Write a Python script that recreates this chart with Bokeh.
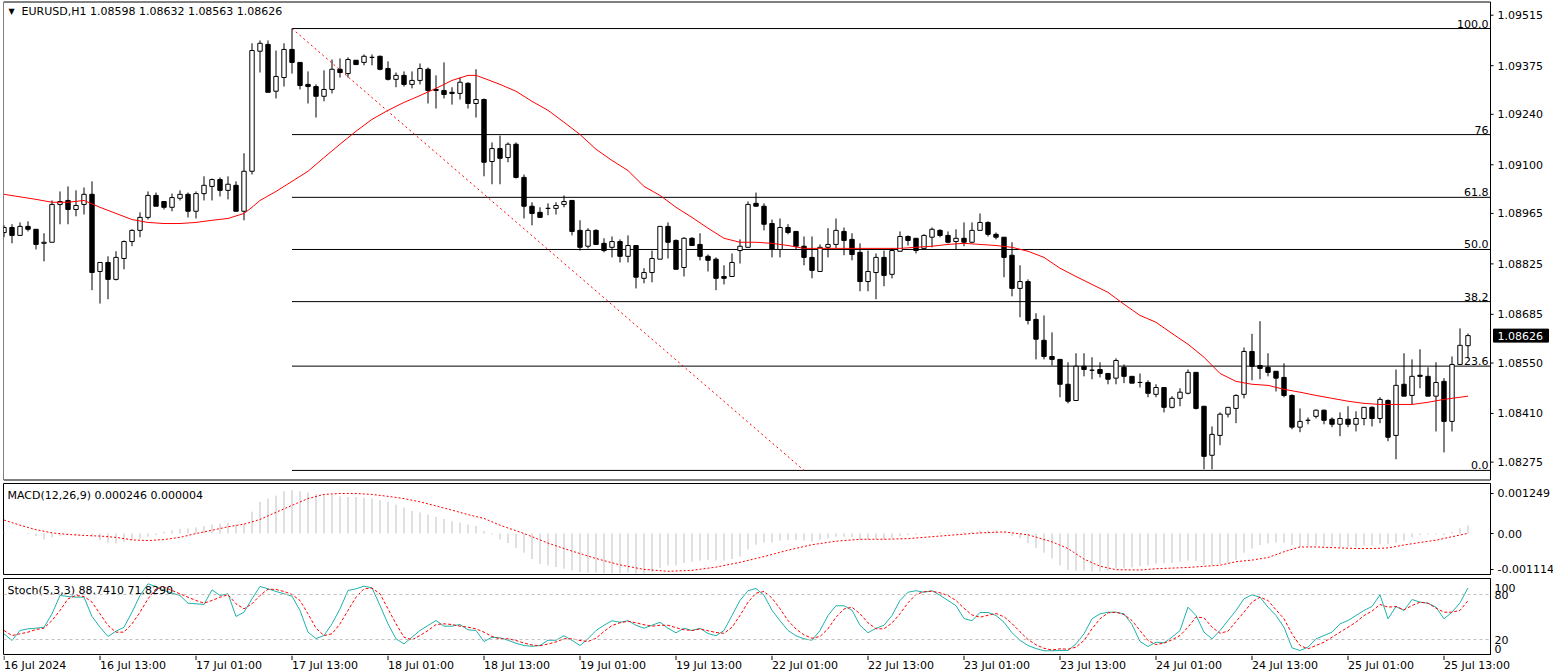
from bokeh.plotting import figure
from bokeh.layouts import column
from bokeh.models import Range1d, FixedTicker, CustomJSTickFormatter, Span, ColumnDataSource
from bokeh.embed import file_html
from bokeh.resources import INLINE
from bokeh.core.properties import value

FONT = "DejaVu Sans"

# ---------------- data (EURUSD H1, 16 Jul 01:00 .. 25 Jul 16:00) ----------------
opens = [1.08912,1.08926,1.08904,1.08929,1.08921,1.08882,1.08885,1.08990,1.09001,1.08976,
1.08990,1.09018,1.08804,1.08829,1.08782,1.08840,1.08887,1.08918,1.08954,1.09015,
1.08998,1.08982,1.09007,1.09018,1.08971,1.09020,1.09040,1.09059,1.09029,1.09043,
1.08971,1.09082,1.09415,1.09434,1.09304,1.09342,1.09420,1.09384,1.09323,1.09317,
1.09290,1.09309,1.09365,1.09353,1.09390,1.09384,1.09398,1.09401,1.09367,1.09337,
1.09348,1.09323,1.09334,1.09365,1.09309,1.09306,1.09301,1.09298,1.09326,1.09270,
1.09281,1.09109,1.09145,1.09120,1.09157,1.09065,1.08985,1.08968,1.08979,1.08979,
1.08990,1.09001,1.08918,1.08874,1.08918,1.08882,1.08871,1.08887,1.08846,1.08876,
1.08785,1.08801,1.08838,1.08929,1.08890,1.08815,1.08896,1.08879,1.08846,1.08838,
1.08790,1.08790,1.08862,1.08871,1.08993,1.08985,1.08937,1.08865,1.08926,1.08915,
1.08874,1.08843,1.08804,1.08871,1.08879,1.08915,1.08893,1.08857,1.08776,1.08801,
1.08843,1.08796,1.08860,1.08901,1.08896,1.08868,1.08899,1.08918,1.08904,1.08887,
1.08896,1.08885,1.08918,1.08940,1.08907,1.08899,1.08849,1.08757,1.08776,1.08671,
1.08613,1.08568,1.08560,1.08491,1.08446,1.08541,1.08530,1.08532,1.08521,1.08508,
1.08538,1.08513,1.08496,1.08496,1.08463,1.08482,1.08427,1.08452,1.08466,1.08524,
1.08430,1.08294,1.08349,1.08408,1.08424,1.08463,1.08582,1.08543,1.08538,1.08527,
1.08510,1.08460,1.08372,1.08391,1.08402,1.08419,1.08394,1.08380,1.08394,1.08380,
1.08396,1.08427,1.08396,1.08446,1.08349,1.08491,1.08460,1.08516,1.08513,1.08458,
1.08499,1.08388,1.08546,1.08598]
highs = [1.08932,1.08935,1.08940,1.08943,1.08921,1.08910,1.09001,1.09026,1.09040,1.09029,
1.09037,1.09054,1.08829,1.08846,1.08860,1.08890,1.08921,1.08968,1.09026,1.09023,
1.08998,1.09020,1.09029,1.09023,1.09026,1.09068,1.09062,1.09065,1.09068,1.09054,
1.09132,1.09437,1.09445,1.09445,1.09417,1.09437,1.09478,1.09384,1.09359,1.09323,
1.09362,1.09392,1.09395,1.09398,1.09390,1.09406,1.09406,1.09403,1.09387,1.09356,
1.09359,1.09359,1.09381,1.09370,1.09348,1.09384,1.09315,1.09342,1.09329,1.09365,
1.09284,1.09162,1.09181,1.09162,1.09162,1.09073,1.08996,1.08982,1.08993,1.08996,
1.09015,1.09001,1.08946,1.08924,1.08921,1.08896,1.08901,1.08893,1.08904,1.08876,
1.08813,1.08862,1.08929,1.08940,1.08893,1.08899,1.08899,1.08910,1.08851,1.08843,
1.08821,1.08854,1.08893,1.08998,1.09023,1.08993,1.08948,1.08951,1.08935,1.08915,
1.08901,1.08901,1.08879,1.08924,1.08951,1.08926,1.08910,1.08882,1.08862,1.08854,
1.08862,1.08868,1.08915,1.08904,1.08896,1.08907,1.08926,1.08921,1.08915,1.08921,
1.08940,1.08940,1.08965,1.08943,1.08912,1.08899,1.08885,1.08821,1.08782,1.08688,
1.08682,1.08635,1.08560,1.08552,1.08577,1.08577,1.08566,1.08552,1.08521,1.08563,
1.08546,1.08513,1.08521,1.08502,1.08491,1.08482,1.08458,1.08480,1.08532,1.08524,
1.08430,1.08374,1.08413,1.08427,1.08463,1.08593,1.08631,1.08666,1.08577,1.08527,
1.08549,1.08463,1.08424,1.08399,1.08421,1.08421,1.08399,1.08413,1.08430,1.08416,
1.08427,1.08430,1.08455,1.08449,1.08532,1.08577,1.08560,1.08588,1.08538,1.08552,
1.08508,1.08568,1.08646,1.08632]
lows = [1.08899,1.08882,1.08904,1.08915,1.08865,1.08832,1.08885,1.08935,1.08935,1.08957,
1.08962,1.08752,1.08715,1.08727,1.08779,1.08810,1.08874,1.08899,1.08948,1.08985,
1.08976,1.08971,1.09001,1.08954,1.08951,1.09001,1.09001,1.09012,1.09004,1.08971,
1.08946,1.09073,1.09356,1.09301,1.09284,1.09317,1.09353,1.09309,1.09270,1.09231,
1.09276,1.09298,1.09342,1.09342,1.09378,1.09376,1.09376,1.09362,1.09334,1.09315,
1.09317,1.09312,1.09323,1.09270,1.09256,1.09284,1.09267,1.09281,1.09256,1.09231,
1.09068,1.09046,1.09046,1.09107,1.09062,1.08951,1.08932,1.08954,1.08960,1.08962,
1.08982,1.08904,1.08862,1.08868,1.08879,1.08857,1.08843,1.08829,1.08829,1.08757,
1.08771,1.08774,1.08838,1.08840,1.08810,1.08790,1.08876,1.08835,1.08804,1.08752,
1.08768,1.08790,1.08826,1.08871,1.08985,1.08918,1.08843,1.08843,1.08907,1.08865,
1.08821,1.08785,1.08804,1.08843,1.08868,1.08849,1.08835,1.08749,1.08749,1.08727,
1.08763,1.08785,1.08860,1.08876,1.08854,1.08868,1.08871,1.08899,1.08882,1.08865,
1.08874,1.08882,1.08918,1.08901,1.08893,1.08788,1.08735,1.08677,1.08657,1.08560,
1.08560,1.08543,1.08455,1.08438,1.08446,1.08513,1.08505,1.08510,1.08491,1.08491,
1.08494,1.08494,1.08482,1.08455,1.08455,1.08413,1.08424,1.08430,1.08463,1.08421,
1.08255,1.08255,1.08322,1.08399,1.08383,1.08452,1.08502,1.08505,1.08513,1.08471,
1.08455,1.08366,1.08358,1.08380,1.08396,1.08380,1.08372,1.08347,1.08372,1.08360,
1.08377,1.08374,1.08383,1.08333,1.08283,1.08458,1.08435,1.08480,1.08458,1.08360,
1.08302,1.08360,1.08546,1.08563]
closes = [1.08926,1.08904,1.08929,1.08921,1.08879,1.08885,1.08990,1.08998,1.08976,1.08987,
1.09018,1.08801,1.08829,1.08782,1.08843,1.08887,1.08918,1.08954,1.09015,1.08985,
1.08982,1.09009,1.09018,1.08971,1.09020,1.09043,1.09059,1.09029,1.09046,1.08971,
1.09082,1.09417,1.09437,1.09301,1.09345,1.09420,1.09384,1.09320,1.09317,1.09290,
1.09309,1.09365,1.09356,1.09392,1.09378,1.09401,1.09398,1.09365,1.09337,1.09348,
1.09323,1.09334,1.09367,1.09306,1.09306,1.09295,1.09298,1.09329,1.09270,1.09281,
1.09107,1.09145,1.09118,1.09157,1.09065,1.08985,1.08965,1.08954,1.08979,1.08987,
1.08998,1.08915,1.08871,1.08918,1.08879,1.08862,1.08887,1.08846,1.08876,1.08788,
1.08801,1.08840,1.08929,1.08885,1.08810,1.08896,1.08876,1.08846,1.08835,1.08785,
1.08785,1.08829,1.08874,1.08990,1.08985,1.08935,1.08865,1.08926,1.08912,1.08874,
1.08843,1.08807,1.08871,1.08879,1.08918,1.08890,1.08851,1.08776,1.08804,1.08843,
1.08793,1.08862,1.08901,1.08890,1.08862,1.08904,1.08921,1.08904,1.08885,1.08896,
1.08885,1.08918,1.08940,1.08907,1.08899,1.08843,1.08757,1.08776,1.08668,1.08616,
1.08568,1.08560,1.08491,1.08444,1.08541,1.08532,1.08530,1.08521,1.08505,1.08557,
1.08513,1.08494,1.08496,1.08466,1.08482,1.08427,1.08452,1.08469,1.08524,1.08424,
1.08291,1.08352,1.08408,1.08427,1.08460,1.08582,1.08541,1.08535,1.08524,1.08508,
1.08460,1.08372,1.08388,1.08391,1.08419,1.08391,1.08380,1.08396,1.08380,1.08396,
1.08427,1.08396,1.08449,1.08344,1.08488,1.08458,1.08513,1.08513,1.08458,1.08496,
1.08388,1.08546,1.08599,1.08626]

# moving average (red), read at selected bars
ma_idx = [0,4,6,8,10,12,14,16,18,20,22,24,26,28,30,31,32,34,36,38,40,42,44,46,48,50,52,54,56,58,59,
          60,62,64,66,68,70,72,74,76,78,80,82,84,86,88,90,92,94,96,98,100,104,108,112,114,116,118,
          120,122,124,126,128,130,132,134,136,138,140,142,144,146,148,150,152,154,156,158,160,162,
          164,166,168,170,172,174,176,178,180,182,183]
ma_val = [1.09018,1.09004,1.08996,1.08996,1.09001,1.08982,1.08965,1.08948,1.08940,1.08937,1.08937,
          1.08940,1.08946,1.08951,1.08965,1.08982,1.09001,1.09026,1.09054,1.09082,1.09120,1.09157,
          1.09193,1.09226,1.09251,1.09273,1.09292,1.09312,1.09334,1.09348,1.09348,1.09340,1.09323,
          1.09304,1.09276,1.09251,1.09218,1.09184,1.09143,1.09112,1.09084,1.09040,1.09015,1.08982,
          1.08954,1.08924,1.08896,1.08885,1.08885,1.08882,1.08876,1.08868,1.08868,1.08868,1.08868,
          1.08871,1.08874,1.08879,1.08882,1.08879,1.08876,1.08871,1.08860,1.08843,1.08813,1.08790,
          1.08768,1.08746,1.08713,1.08682,1.08663,1.08632,1.08602,1.08566,1.08521,1.08499,1.08491,
          1.08488,1.08477,1.08469,1.08460,1.08452,1.08444,1.08438,1.08435,1.08435,1.08435,1.08441,
          1.08449,1.08455,1.08458]

# Fibonacci retracement
fib_start, fib_end = 36, 100
fib_high, fib_low = 1.09478, 1.08252
fib_levels = [0.0, 23.6, 38.2, 50.0, 61.8, 76.0, 100.0]
fib_labels = ["0.0", "23.6", "38.2", "50.0", "61.8", "76", "100.0"]

# MACD(12,26,9): histogram (main) and signal
macd_hist = [0.00005,0.00001,-0.00001,-0.00003,-0.00008,-0.00018,-0.00012,-0.00007,-0.00005,-0.00005,
0.00002,-0.0001,-0.00021,-0.00029,-0.00031,-0.00026,-0.00021,-0.00016,-0.0001,-0.00005,
0.00005,0.0001,0.00014,0.00016,0.00019,0.00023,0.00028,0.00031,0.00033,0.00028,
0.00031,0.00068,0.00099,0.00109,0.00118,0.00132,0.00135,0.00132,0.00128,0.00123,
0.0012,0.0012,0.00116,0.00114,0.00114,0.00112,0.00109,0.00104,0.00099,0.0009,
0.00081,0.0007,0.00066,0.00059,0.00052,0.00045,0.00038,0.00034,0.00028,0.00024,
0.00008,-0.00003,-0.00018,
-0.0003,-0.00045,-0.0006,-0.0008,-0.00095,-0.001,-0.00105,-0.0011,-0.00115,-0.0012,
-0.00122,-0.00122,-0.00124,-0.00124,-0.00124,-0.00122,-0.00125,-0.00125,-0.0012,-0.00108,
-0.001,-0.001,-0.00092,-0.00088,-0.00085,-0.00083,-0.00085,-0.00085,-0.0008,-0.00072,
-0.0005,-0.00035,-0.00028,-0.00028,-0.00022,-0.0002,-0.0002,-0.00022,-0.00025,-0.0002,
-0.00015,-0.0001,-0.0001,-0.00012,-0.0002,-0.0002,-0.00018,-0.0002,-0.00015,-0.00008,
-0.00005,-0.00004,-0.00002,0.00002,0.00003,0.00003,0.00003,0.00004,0.00006,0.00009,
0.0001,0.0001,0.00004,-0.00008,-0.00015,-0.0003,-0.00045,-0.0006,-0.00078,
-0.00099,-0.00114,-0.00116,-0.00116,-0.00118,-0.00118,-0.00116,-0.00109,-0.00109,-0.00106,
-0.00102,-0.00099,-0.00094,-0.00092,-0.00092,-0.00088,-0.00085,-0.00086,-0.00099,-0.00099,
-0.00096,-0.00092,-0.00083,-0.0006,-0.00047,-0.00036,-0.00031,-0.00028,-0.00029,-0.00036,
-0.00042,-0.0004,-0.00038,-0.0004,-0.0004,-0.00042,-0.00042,-0.00042,-0.00038,-0.00038,
-0.00034,-0.00033,-0.00029,-0.00023,-0.00012,-0.00005,-0.00003,-0.00003,-0.00005,0.00005,
0.00016,0.000246]
sig_idx = [0,2,4,6,8,10,12,14,16,18,20,22,24,26,28,30,32,34,36,38,40,42,44,46,48,50,52,54,56,58,60,62,
           65,68,71,74,77,80,83,86,89,92,95,98,101,104,107,110,113,116,119,122,125,128,131,133,135,137,
           139,142,144,148,152,154,156,158,160,162,164,167,169,171,173,175,177,179,181,183]
sig_val = [0.00042,0.00026,0.00012,0.00002,-0.00003,-0.00006,-0.00008,-0.00012,-0.0002,-0.00022,-0.00019,
           -0.00012,0.0,0.0001,0.00021,0.00029,0.00044,0.00066,0.00088,0.00109,0.00122,0.00125,0.00125,
           0.00122,0.00116,0.00109,0.00099,0.00086,0.00073,0.00059,0.00047,0.00026,
           0.0,-0.0003,-0.00055,-0.00078,-0.00098,-0.00112,-0.00118,-0.00115,-0.00105,-0.0009,-0.00072,
           -0.00052,-0.00035,-0.00024,-0.00018,-0.00018,-0.00016,-0.0001,-0.00004,0.00002,0.00005,-0.00004,
           -0.00026,-0.00047,-0.0008,-0.00102,-0.00113,-0.00114,-0.0011,-0.00106,-0.00099,-0.00088,-0.00083,
           -0.00075,-0.00057,-0.00042,-0.00042,-0.00045,-0.00047,-0.00047,-0.00045,-0.00036,-0.00028,
           -0.00021,-0.0001,0.000004]

# Stochastic(5,3,3)
stoch_k = [27.6,18.7,32.0,34.2,35.1,36.4,54.2,78.7,77.3,76.4,76.4,50.7,36.4,24.0,31.1,36.4,56.4,78.7,94.2,90.7,
85.3,81.8,78.7,68.4,67.6,66.7,86.2,78.7,80.9,50.7,56.4,74.2,90.7,87.6,84.0,80.9,77.8,58.7,29.8,21.3,
25.3,40.9,60.9,85.3,87.6,91.1,88.9,65.3,40.9,20.9,14.2,23.1,32.0,38.7,45.3,37.8,37.8,40.0,32.9,32.0,
17.3,23.1,22.2,
19,15,12,11,12,19,19,25,19,12,21,32,39,45,43,45,39,35,39,43,35,29,35,32,35,28,25,32,52,72,
85,88,79,59,45,32,25,21,19,32,52,65,65,59,39,29,35,39,52,72,83,85,83,85,79,72,65,48,45,56,
56,52,43,29,19,12,8,5,5,
5.3,5.3,14.2,27.6,47.6,54.2,56.4,56.4,54.2,40.0,17.3,10.7,16.4,15.6,23.1,32.0,63.1,52.0,29.8,20.9,
32.0,45.3,58.7,74.2,79.6,76.4,63.1,52.0,36.4,8.9,5.3,9.8,20.9,25.3,29.8,40.9,45.3,52.0,58.7,64.0,
79.6,47.6,64.0,58.7,73.3,69.8,68.4,63.1,47.6,56.4,68.9,88.741]
stoch_d = [32.0,25.3,27.6,29.8,33.3,35.1,45.3,58.7,74.2,78.7,77.3,69.8,54.2,38.7,29.8,29.8,40.9,56.4,74.2,87.6,
89.8,85.3,80.9,76.4,72.0,68.4,72.0,76.4,79.6,67.6,60.9,67.6,78.7,87.1,86.7,84.0,80.0,72.0,54.2,35.1,
25.3,27.6,40.9,58.7,76.4,87.6,88.4,80.9,60.9,40.9,23.1,19.6,25.3,32.0,40.0,40.9,40.0,37.8,36.4,34.2,
29.8,24.0,20.9,
21,18.7,15.3,12.7,11.7,14,16.7,21,21,18.7,17.3,21.7,30.7,38.7,42.3,44.3,42.3,39.7,37.7,39,
39,35.7,33,32,34,31.7,29.3,28.3,36.3,52,69.7,81.7,84,75.3,61,45.3,34,26,21.7,24,
34.3,49.7,60.7,63,54.3,42.3,34.3,34.3,42,54.3,69,80,83.7,84.3,82.3,78.7,72,61.7,52.7,49.7,
52.3,54.7,50.3,41.3,30.3,20,13,8.3,6,
7.6,7.1,9.8,18.7,34.2,47.6,55.6,56.4,53.3,45.3,32.0,18.7,13.3,15.1,19.6,25.3,36.4,49.8,48.9,36.4,
28.4,31.1,44.0,56.4,69.8,76.4,72.0,59.6,47.6,27.6,12.0,7.6,12.0,16.4,23.1,29.8,36.4,43.1,52.0,57.8,
66.7,63.1,64.0,59.6,65.3,69.8,68.4,61.8,56.4,56.4,58.7,71.829]

# axis tick labels
price_ticks = [1.09515, 1.09375, 1.09240, 1.09100, 1.08965, 1.08825, 1.08685, 1.08550, 1.08410, 1.08275]
macd_ticks = [0.001249, 0.0, -0.001114]
time_idx = [0, 12, 24, 36, 48, 60, 72, 84, 96, 108, 120, 132, 144, 156, 168, 180]
time_labels = ["16 Jul 2024", "16 Jul 13:00", "17 Jul 01:00", "17 Jul 13:00", "18 Jul 01:00",
               "18 Jul 13:00", "19 Jul 01:00", "19 Jul 13:00", "22 Jul 01:00", "22 Jul 13:00",
               "23 Jul 01:00", "23 Jul 13:00", "24 Jul 01:00", "24 Jul 13:00", "25 Jul 01:00",
               "25 Jul 13:00"]

# ---------------- layout ----------------
BAR = 8.0           # pixels per bar
FW = 1487           # indicator frame width
X_LO = -0.0625
X_HI = X_LO + FW / BAR
xr = Range1d(X_LO, X_HI)
FULL = 1550

def sx(px):
    return X_LO + (px - 3) / BAR

def mk(fh, bt, bb, yr):
    p = figure(frame_width=FW, frame_height=fh, x_range=xr, y_range=yr,
               x_axis_location=None, y_axis_location="right",
               toolbar_location=None, output_backend="svg",
               min_border_left=3, min_border_right=63, min_border_top=bt, min_border_bottom=bb,
               background_fill_color="white", border_fill_color="white")
    p.grid.visible = False
    p.outline_line_color = "black"
    p.outline_line_width = 1
    ax = p.yaxis[0]
    ax.axis_line_color = "black"
    ax.major_tick_out = 3
    ax.major_tick_in = 0
    ax.minor_tick_out = 0
    ax.minor_tick_in = 0
    ax.major_label_standoff = 4
    ax.major_label_text_font = FONT
    ax.major_label_text_font_size = "11px"
    ax.major_label_text_color = "black"
    return p

# ---- main price panel: full-width frame, its frame lines and price scale drawn in it ----
Y_TOP, Y_BOT = 1.09553, 1.08224          # prices at the panel's top and bottom frame lines
ppx = (Y_TOP - Y_BOT) / 479.0
p1 = figure(frame_width=FULL, frame_height=481, x_range=Range1d(X_LO, X_LO + FULL / BAR),
            y_range=Range1d(Y_BOT - ppx, Y_TOP + ppx), x_axis_location=None, y_axis_location=None,
            toolbar_location=None, output_backend="svg",
            min_border_left=3, min_border_right=0, min_border_top=0, min_border_bottom=0,
            background_fill_color="white", border_fill_color="white")
p1.grid.visible = False
p1.outline_line_color = None

XL, XR = sx(3), sx(1490)
yt, yb = Y_TOP - 0.5 * ppx, Y_BOT + 0.5 * ppx
p1.segment(x0=[XL, XL, XL, XR], y0=[yt, yb, yb, yb], x1=[XR, XR, XL, XR], y1=[yt, yb, yt, yt],
           line_color="black", line_width=1)

n = len(closes)
idx = list(range(n))
src = ColumnDataSource(dict(
    x=idx, o=opens, h=highs, l=lows, c=closes,
    top=[max(a, b) for a, b in zip(opens, closes)],
    bot=[min(a, b) for a, b in zip(opens, closes)],
    fill=["white" if c >= o else "black" for o, c in zip(opens, closes)]))

# fib levels
lev_prices = [fib_low + (fib_high - fib_low) * lv / 100.0 for lv in fib_levels]
p1.segment(x0=[fib_start] * len(lev_prices), y0=lev_prices, x1=[XR] * len(lev_prices), y1=lev_prices,
           line_color="black", line_width=1)
p1.line([fib_start, fib_end], [fib_high, fib_low], line_color="red", line_width=1, line_dash="2 3")
p1.text(x=[sx(1488)] * len(lev_prices), y=lev_prices, text=fib_labels, text_align="right",
        text_baseline="bottom", y_offset=-1, text_font=value(FONT), text_font_size="11px", text_color="black")

p1.segment(x0="x", y0="l", x1="x", y1="h", source=src, line_color="black", line_width=1)
p1.vbar(x="x", width=0.55, top="top", bottom="bot", source=src, fill_color="fill",
        line_color="black", line_width=1)
p1.line(ma_idx, ma_val, line_color="red", line_width=1)

# price scale (right)
p1.segment(x0=[XR] * len(price_ticks), y0=price_ticks, x1=[sx(1493)] * len(price_ticks), y1=price_ticks,
           line_color="black", line_width=1)
p1.text(x=[sx(1497)] * len(price_ticks), y=price_ticks, text=["%.5f" % t for t in price_ticks],
        text_align="left", text_baseline="middle", text_font=value(FONT), text_font_size="11px",
        text_color="black")
# current price tag
p1.quad(left=[sx(1493)], right=[sx(1548)], top=[closes[-1] + 6.5 * ppx], bottom=[closes[-1] - 6.5 * ppx],
        fill_color="black", line_color="black")
p1.text(x=[sx(1497)], y=[closes[-1]], text=["%.5f" % closes[-1]], text_align="left", text_baseline="middle",
        text_font=value(FONT), text_font_size="11px", text_color="white")

title_y = Y_TOP - 10 * ppx
p1.text(x=[sx(11)], y=[title_y], text=["\u25BC"], text_align="center", text_baseline="middle",
        text_font=value(FONT), text_font_size="8px", text_color="black")
title = "EURUSD,H1  %.5f %.5f %.5f %.5f" % (opens[-1], highs[-1], lows[-1], closes[-1])
p1.text(x=[sx(21)], y=[title_y], text=[title], text_align="left", text_baseline="middle",
        text_font=value(FONT), text_font_size="11px", text_color="black")

# ---- MACD panel ----
M_TOP, M_BOT = 0.001561, -0.001311
p2 = mk(92, 2, 0, Range1d(M_BOT, M_TOP))
p2.yaxis.ticker = FixedTicker(ticks=macd_ticks, minor_ticks=[])
p2.yaxis.formatter = CustomJSTickFormatter(code="return Math.abs(tick) < 1e-9 ? '0.00' : tick.toFixed(6);")
mpx = (M_TOP - M_BOT) / 92.0
p2.segment(x0=idx, y0=[0.0] * n, x1=idx, y1=macd_hist, line_color="#c0c0c0", line_width=1)
p2.line(sig_idx, sig_val, line_color="red", line_width=1, line_dash="2 2")
p2.text(x=[sx(7)], y=[M_TOP - 12 * mpx], text=["MACD(12,26,9) %.6f %.6f" % (macd_hist[-1], sig_val[-1])],
        text_align="left", text_baseline="middle", text_font=value(FONT), text_font_size="11px",
        text_color="black")

# ---- Stochastic panel ----
S_TOP, S_BOT = 101.3, -1.3
p3 = mk(77, 3, 0, Range1d(S_BOT, S_TOP))
spx = (S_TOP - S_BOT) / 77.0
stoch_pos = [89.3, 78.7, 20.0, 8.0]
stoch_lab = ["100", "80", "20", "0"]
p3.yaxis.ticker = FixedTicker(ticks=stoch_pos, minor_ticks=[])
p3.yaxis.formatter = CustomJSTickFormatter(args=dict(pos=stoch_pos, lab=stoch_lab), code="""
let b = 0;
for (let k = 0; k < pos.length; k++) { if (Math.abs(pos[k] - tick) < Math.abs(pos[b] - tick)) b = k; }
return lab[b];
""")
p3.yaxis.major_tick_out = 0
for lv in (80, 20):
    p3.add_layout(Span(location=lv, dimension="width", line_color="#c0c0c0", line_width=1, line_dash="3 3"))
p3.line(idx, stoch_k, line_color="#20b2aa", line_width=1)
p3.line(idx, stoch_d, line_color="red", line_width=1, line_dash="3 2")
p3.text(x=[sx(7)], y=[S_TOP - 12 * spx], text=["Stoch(5,3,3) %.4f %.4f" % (stoch_k[-1], stoch_d[-1])],
        text_align="left", text_baseline="middle", text_font=value(FONT), text_font_size="11px",
        text_color="black")

# ---- time axis strip ----
p4 = figure(frame_width=FULL, frame_height=17, x_range=Range1d(X_LO, X_LO + FULL / BAR), y_range=Range1d(0, 17),
            x_axis_location=None, y_axis_location=None, toolbar_location=None, output_backend="svg",
            min_border_left=3, min_border_right=0, min_border_top=0, min_border_bottom=0,
            background_fill_color="white", border_fill_color="white")
p4.grid.visible = False
p4.outline_line_color = None
p4.segment(x0=time_idx, y0=[17] * len(time_idx), x1=time_idx, y1=[12.5] * len(time_idx),
           line_color="black", line_width=1)
p4.text(x=time_idx, y=[7] * len(time_idx), text=time_labels, text_align="left", text_baseline="middle",
        x_offset=0, text_font=value(FONT), text_font_size="11px", text_color="black")

layout = column(p1, p2, p3, p4, spacing=0)
open("out.html", "w").write(file_html(layout, INLINE))
